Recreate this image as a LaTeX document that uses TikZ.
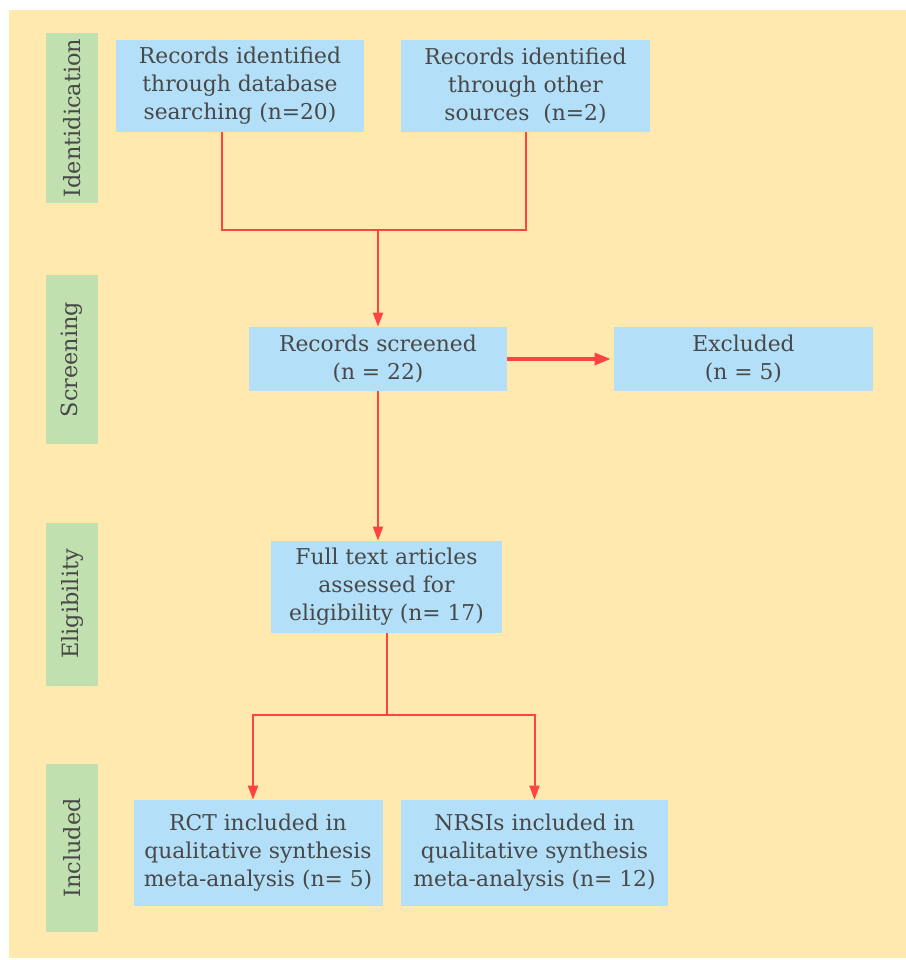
\documentclass[tikz,border=0pt]{standalone}
\usepackage{fontspec}
\setmainfont{DejaVu Serif}
\usetikzlibrary{arrows.meta, positioning}

\definecolor{paper}{RGB}{255,233,175}
\definecolor{boxblue}{RGB}{179,224,248}
\definecolor{phasegreen}{RGB}{193,224,176}
\definecolor{linkred}{RGB}{255,66,66}
\definecolor{ink}{RGB}{72,72,72}

\begin{document}
\begin{tikzpicture}[x=0.5pt, y=-0.5pt, box/.style={rectangle, draw=none, fill=boxblue, text=ink, align=center, inner sep=0pt, font=\fontsize{10.9}{14}\selectfont}, phase/.style={rectangle, draw=none, fill=phasegreen, text=ink, rotate=90, inner sep=0pt, minimum height=26pt, font=\fontsize{11.2}{13}\selectfont}, link/.style={draw=linkred, line width=1pt}, >={Triangle[length=7pt, width=5pt]}]
	% Background
	\useasboundingbox (0,0) rectangle (906,960);
	\fill[paper] (9,10) rectangle (906,958);

	% Phases
	\node[phase, minimum width=85pt] (ident) at (72,118) {Identidication};
	\node[phase, minimum width=84.5pt] (screen) at (72,359.5) {Screening};
	\node[phase, minimum width=81.5pt] (elig) at (72,604) {Eligibility};
	\node[phase, minimum width=84pt] (incl) at (72,848) {Included};

	% Nodes
	\node[box, minimum width=124pt, minimum height=46pt] (db) at (240,86) {Records identified\\through database\\searching (n=20)};
	\node[box, minimum width=124.5pt, minimum height=46pt] (other) at (525.5,86) {Records identified\\through other\\sources\ \ (n=2)};
	\node[box, minimum width=129pt, minimum height=32pt] (screened) at (378,359) {Records screened\\(n = 22)};
	\node[box, minimum width=129.5pt, minimum height=32pt] (excluded) at (743.5,359) {Excluded\\(n = 5)};
	\node[box, minimum width=115.5pt, minimum height=46pt] (full) at (386.5,587) {Full text articles\\assessed for\\eligibility (n= 17)};
	\node[box, minimum width=124.5pt, minimum height=53pt] (rct) at (258,853) {RCT included in\\qualitative synthesis\\meta-analysis (n= 5)};
	\node[box, minimum width=133.5pt, minimum height=53pt] (nrsi) at (534.5,853) {NRSIs included in\\qualitative synthesis\\meta-analysis (n= 12)};
	\coordinate (join) at (378,230);
	\coordinate (split) at (386.5,715);

	% Connectors
	\draw[link] ([xshift=-9pt]db.south) |- (join) -| (other.south);
	\draw[link, ->] (join) -- (screened);
	\draw[link, line width=1.6pt, -{Triangle[length=8pt, width=6pt]}, shorten >=1.5pt] (screened) -- (excluded);
	\draw[link, ->] (screened) -- (screened |- full.north);
	\draw[link] (full) -- (split);
	\draw[link, ->] (split) -| ([xshift=-2.5pt]rct.north);
	\draw[link, ->] (split) -| (nrsi.north);
\end{tikzpicture}
\end{document}
